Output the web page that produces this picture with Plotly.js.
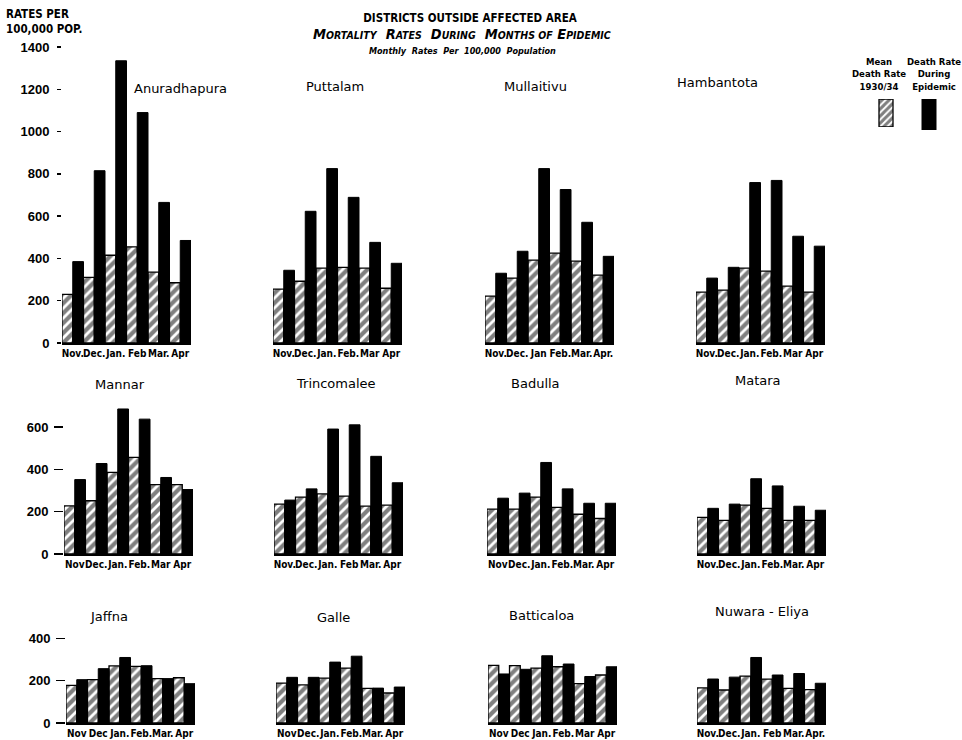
<!DOCTYPE html>
<html><head><meta charset="utf-8">
<script src="https://cdn.plot.ly/plotly-3.0.1.min.js"></script>
<style>body{margin:0;background:#fff}#chart{width:962px;height:740px}</style>
</head><body><div id="chart"></div>
<script>
const months = ["Nov", "Dec", "Jan", "Feb", "Mar", "Apr"];
const districts = ["Anuradhapura", "Puttalam", "Mullaitivu", "Hambantota",
                   "Mannar", "Trincomalee", "Badulla", "Matara",
                   "Jaffna", "Galle", "Batticaloa", "Nuwara - Eliya"];

// Mean death rate 1930/34 (hatched) and death rate during epidemic (black), per 100,000
const anuradhapuraMean     = [230, 310, 415, 455, 335, 285];
const anuradhapuraEpidemic = [385, 815, 1335, 1090, 665, 485];
const puttalamMean         = [255, 292, 354, 358, 354, 259];
const puttalamEpidemic     = [344, 623, 825, 689, 476, 377];
const mullaitivuMean       = [222, 307, 392, 425, 387, 321];
const mullaitivuEpidemic   = [330, 434, 825, 726, 571, 410];
const hambantotaMean       = [241, 250, 354, 340, 269, 241];
const hambantotaEpidemic   = [307, 358, 759, 769, 505, 458];
const mannarMean           = [228, 252, 386, 457, 328, 328];
const mannarEpidemic       = [352, 428, 686, 638, 362, 305];
const trincomaleeMean      = [236, 269, 284, 274, 226, 231];
const trincomaleeEpidemic  = [255, 308, 591, 611, 462, 337];
const badullaMean          = [212, 212, 269, 221, 188, 168];
const badullaEpidemic      = [264, 288, 433, 308, 240, 240];
const mataraMean           = [173, 159, 231, 216, 159, 159];
const mataraEpidemic       = [216, 236, 356, 322, 226, 207];
const jaffnaMean           = [178, 205, 270, 268, 210, 214];
const jaffnaEpidemic       = [205, 257, 310, 271, 210, 186];
const galleMean            = [189, 180, 212, 260, 164, 142];
const galleEpidemic        = [216, 216, 288, 316, 165, 170];
const batticaloaMean       = [273, 271, 260, 266, 186, 227];
const batticaloaEpidemic   = [232, 254, 318, 279, 220, 266];
const nuwaraEliyaMean      = [166, 156, 222, 208, 164, 158];
const nuwaraEliyaEpidemic  = [208, 217, 310, 227, 234, 188];

// Month tick labels as written under each panel
const anuradhapuraTicks = ["Nov.", "Dec.", "Jan.", "Feb", "Mar.", "Apr"];
const puttalamTicks     = ["Nov.", "Dec.", "Jan.", "Feb.", "Mar", "Apr"];
const mullaitivuTicks   = ["Nov.", "Dec.", "Jan", "Feb.", "Mar.", "Apr."];
const hambantotaTicks   = ["Nov.", "Dec.", "Jan.", "Feb.", "Mar", "Apr"];
const mannarTicks       = ["Nov", "Dec.", "Jan.", "Feb.", "Mar", "Apr"];
const trincomaleeTicks  = ["Nov.", "Dec.", "Jan.", "Feb", "Mar.", "Apr"];
const badullaTicks      = ["Nov", "Dec.", "Jan.", "Feb.", "Mar.", "Apr"];
const mataraTicks       = ["Nov.", "Dec.", "Jan.", "Feb.", "Mar.", "Apr"];
const jaffnaTicks       = ["Nov", "Dec", "Jan.", "Feb.", "Mar.", "Apr"];
const galleTicks        = ["Nov", "Dec.", "Jan.", "Feb.", "Mar.", "Apr"];
const batticaloaTicks   = ["Nov", "Dec", "Jan.", "Feb.", "Mar", "Apr"];
const nuwaraEliyaTicks  = ["Nov.", "Dec.", "Jan.", "Feb", "Mar.", "Apr."];

const rowTickVals = [[0, 200, 400, 600, 800, 1000, 1200, 1400], [0, 200, 400, 600], [0, 200, 400]];
const legendLabels = ["Mean<br>Death Rate<br>1930/34", "Death Rate<br>During<br>Epidemic"];
const legendSwatch = [1];

const meanSeries = [anuradhapuraMean, puttalamMean, mullaitivuMean, hambantotaMean,
                    mannarMean, trincomaleeMean, badullaMean, mataraMean,
                    jaffnaMean, galleMean, batticaloaMean, nuwaraEliyaMean];
const epiSeries = [anuradhapuraEpidemic, puttalamEpidemic, mullaitivuEpidemic, hambantotaEpidemic,
                   mannarEpidemic, trincomaleeEpidemic, badullaEpidemic, mataraEpidemic,
                   jaffnaEpidemic, galleEpidemic, batticaloaEpidemic, nuwaraEliyaEpidemic];
const tickSeries = [anuradhapuraTicks, puttalamTicks, mullaitivuTicks, hambantotaTicks,
                    mannarTicks, trincomaleeTicks, badullaTicks, mataraTicks,
                    jaffnaTicks, galleTicks, batticaloaTicks, nuwaraEliyaTicks];

// ---------- layout geometry (pixels) ----------
const W = 962, H = 740;
const pxPerUnit = 0.2114;
const rowBase = [343, 554, 723];
const rowMax = [1400, 700, 450];
const colLeft = [[62, 273, 485, 696], [64, 274, 487, 697], [66, 276, 488, 697]];
const panelW = 129;
const namePos = [[180, 88], [335, 86], [535, 86], [717, 83],
                 [120, 384], [336, 383], [535, 383], [758, 381],
                 [109, 616], [333, 617], [541, 615], [762, 611]];

const fx = px => px / W;
const fy = py => 1 - py / H;

const tickFont = {family: "DejaVu Sans Condensed, Liberation Sans Narrow, sans-serif", size: 10, color: "#000", weight: "bold"};
const yFont = {family: "Liberation Sans, Arial, sans-serif", size: 13, color: "#000", weight: "bold"};
const hatch = {shape: "/", fgcolor: "#000", bgcolor: "#fff", size: 7, solidity: 0.6, fillmode: "overlay"};

const traces = [];
const layout = {
  width: W, height: H,
  margin: {l: 0, r: 0, t: 0, b: 0},
  paper_bgcolor: "#fff", plot_bgcolor: "rgba(0,0,0,0)",
  barmode: "group", bargap: 0, bargroupgap: 0,
  showlegend: false,
  annotations: [],
  title: {
    text: "DISTRICTS OUTSIDE AFFECTED AREA",
    x: fx(470), xanchor: "center", y: fy(18), yanchor: "middle",
    font: {family: "DejaVu Sans Condensed, sans-serif", size: 11.5, weight: "bold", color: "#000"}
  }
};

for (let i = 0; i < 12; i++) {
  const row = Math.floor(i / 4), col = i % 4;
  const n = i + 1;
  const xa = n === 1 ? "x" : "x" + n;
  const ya = n === 1 ? "y" : "y" + n;
  traces.push({
    type: "bar", x: months, y: meanSeries[i], xaxis: xa, yaxis: ya,
    name: "Mean Death Rate 1930/34",
    marker: {color: "#fff", line: {color: "#000", width: 1.3}, pattern: hatch},
    hoverinfo: "skip"
  });
  traces.push({
    type: "bar", x: months, y: epiSeries[i], xaxis: xa, yaxis: ya,
    name: "Death Rate During Epidemic",
    marker: {color: "#000", line: {color: "#000", width: 1}},
    hoverinfo: "skip"
  });
  const left = colLeft[row][col];
  const base = rowBase[row];
  const top = base - rowMax[row] * pxPerUnit;
  layout["xaxis" + (n === 1 ? "" : n)] = {
    domain: [fx(left), fx(left + panelW)],
    anchor: ya, type: "category", range: [-0.5, 5.5],
    tickmode: "array", tickvals: months, ticktext: tickSeries[i], tickangle: 0,
    ticks: "", tickfont: tickFont, showline: true, linecolor: "#000", linewidth: 2,
    showgrid: false, zeroline: false, fixedrange: true
  };
  const isLeft = col === 0;
  layout["yaxis" + (n === 1 ? "" : n)] = {
    domain: [fy(base), fy(top)],
    anchor: xa, range: [0, rowMax[row]],
    showgrid: false, zeroline: false, showline: false,
    tickmode: "array", tickvals: rowTickVals[row],
    showticklabels: isLeft, ticks: isLeft ? "outside" : "",
    ticklen: row === 0 ? 4 : 9, tickwidth: 1.5, tickcolor: "#000",
    ticklabelstandoff: row === 0 ? 5 : 3,
    tickfont: yFont, fixedrange: true
  };
  layout.annotations.push({
    xref: "paper", yref: "paper", x: fx(namePos[i][0]), y: fy(namePos[i][1]),
    xanchor: "center", yanchor: "middle", showarrow: false,
    text: districts[i],
    font: {family: "DejaVu Sans, sans-serif", size: 13, color: "#000"}
  });
}

// Legend swatches as two tiny bar panels
traces.push({
  type: "bar", x: [0], y: legendSwatch, xaxis: "x13", yaxis: "y13", width: 0.7,
  marker: {color: "#fff", line: {color: "#000", width: 1.3},
           pattern: {shape: "/", fgcolor: "#000", bgcolor: "#fff", size: 5, solidity: 0.6, fillmode: "overlay"}},
  hoverinfo: "skip"
});
traces.push({
  type: "bar", x: [0], y: legendSwatch, xaxis: "x14", yaxis: "y14", width: 0.7,
  marker: {color: "#000", line: {color: "#000", width: 1}},
  hoverinfo: "skip"
});
layout.xaxis13 = {domain: [fx(876), fx(896)], anchor: "y13", range: [-0.5, 0.5], visible: false, fixedrange: true};
layout.yaxis13 = {domain: [fy(127), fy(99)], anchor: "x13", range: [0, 1], visible: false, fixedrange: true};
layout.xaxis14 = {domain: [fx(919), fx(939)], anchor: "y14", range: [-0.5, 0.5], visible: false, fixedrange: true};
layout.yaxis14 = {domain: [fy(130), fy(99)], anchor: "x14", range: [0, 1], visible: false, fixedrange: true};
legendLabels.forEach((t, k) => {
  layout.annotations.push({
    xref: "paper", yref: "paper", x: fx(k === 0 ? 879 : 934), y: fy(94), xanchor: "center", yanchor: "bottom",
    showarrow: false, text: t, align: "center",
    font: {family: "DejaVu Sans Condensed, sans-serif", size: 9.5, weight: "bold", color: "#000"}
  });
});

const sc = s => '<span style="font-size:10.5px">' + s + '</span>';
layout.annotations.push({
  xref: "paper", yref: "paper", x: fx(462), y: fy(34), xanchor: "center", yanchor: "middle", showarrow: false,
  text: "M" + sc("ORTALITY") + "  R" + sc("ATES") + "  D" + sc("URING") + "  M" + sc("ONTHS OF") + " E" + sc("PIDEMIC"),
  font: {family: "DejaVu Sans Condensed, sans-serif", size: 14.5, weight: "bold", style: "italic", color: "#000"}
});
layout.annotations.push({
  xref: "paper", yref: "paper", x: fx(462), y: fy(51), xanchor: "center", yanchor: "middle", showarrow: false,
  text: "Monthly  Rates  Per  100,000  Population",
  font: {family: "DejaVu Sans Condensed, sans-serif", size: 9, weight: "bold", style: "italic", color: "#000"}
});
layout.annotations.push({
  xref: "paper", yref: "paper", x: fx(4), y: fy(5), xanchor: "left", yanchor: "top", showarrow: false,
  text: "RATES PER<br>100,000 POP.", align: "left",
  font: {family: "DejaVu Sans Condensed, sans-serif", size: 11.5, weight: "bold", color: "#000"}
});

Plotly.newPlot("chart", traces, layout, {staticPlot: true, displayModeBar: false});
</script>
</body></html>
